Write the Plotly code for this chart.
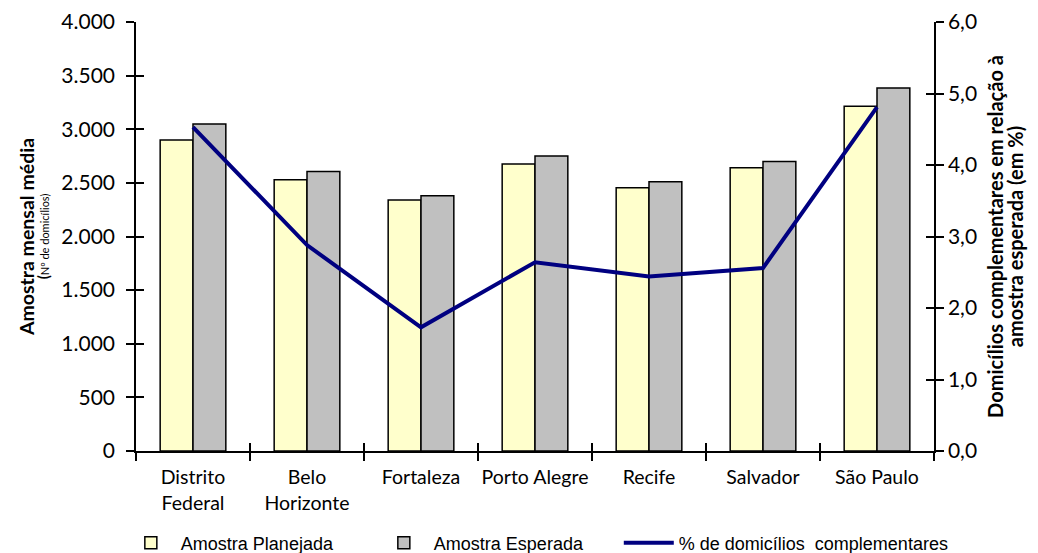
import plotly.graph_objects as go

# Capitals surveyed
cidades = ["Distrito<br>Federal", "Belo<br>Horizonte", "Fortaleza", "Porto Alegre",
           "Recife", "Salvador", "São Paulo"]

# Average monthly sample (number of households)
amostra_planejada = [2900, 2530, 2340, 2675, 2455, 2640, 3215]
amostra_esperada = [3050, 2605, 2380, 2750, 2510, 2700, 3385]

# Complementary households relative to the expected sample (%)
pct_complementares = [4.53, 2.88, 1.73, 2.64, 2.44, 2.56, 4.81]

num_font = "Lato, 'Open Sans', sans-serif"
legend_font = "'Liberation Sans', Arial, sans-serif"

fig = go.Figure()
fig.add_trace(go.Bar(
    x=cidades, y=amostra_planejada, name="Amostra Planejada",
    marker=dict(color="#FFFFCC", line=dict(color="black", width=1.5)),
))
fig.add_trace(go.Bar(
    x=cidades, y=amostra_esperada, name="Amostra Esperada",
    marker=dict(color="#C0C0C0", line=dict(color="black", width=1.5)),
))
fig.add_trace(go.Scatter(
    x=cidades, y=pct_complementares, name="% de domicílios  complementares",
    mode="lines", line=dict(color="#000080", width=4), yaxis="y2",
    legend="legend2",
))

# transparent copies that bring up the overlay axes carrying the inner
# half of the crossing tick marks
hidden = dict(mode="lines", opacity=0, line=dict(width=0), showlegend=False, hoverinfo="skip")
fig.add_trace(go.Scatter(x=cidades, y=amostra_esperada, xaxis="x", yaxis="y3", **hidden))
fig.add_trace(go.Scatter(x=cidades, y=pct_complementares, xaxis="x", yaxis="y4", **hidden))
fig.add_trace(go.Scatter(x=list(range(len(cidades))), y=amostra_esperada, xaxis="x3", yaxis="y", **hidden))

tick_common = dict(ticklen=8, tickwidth=1.5, tickcolor="black")
plain = dict(showgrid=False, zeroline=False, automargin=False)
legend_common = dict(
    orientation="h", xanchor="left", y=-0.2145, yanchor="middle",
    font=dict(family=legend_font, size=18, color="black"),
    itemwidth=50, bgcolor="rgba(0,0,0,0)",
)

fig.update_layout(
    width=1038, height=553,
    margin=dict(l=136, r=104, t=22, b=102, autoexpand=False),
    paper_bgcolor="white", plot_bgcolor="white",
    separators=",.",
    barmode="group", bargap=0.424, bargroupgap=0,
    showlegend=True,
    legend=dict(x=-0.019, entrywidth=188, entrywidthmode="pixels", **legend_common),
    legend2=dict(x=0.605, **legend_common),
    xaxis=dict(
        type="category", tickson="boundaries", ticks="outside",
        showline=True, linecolor="black", linewidth=1.5,
        tickfont=dict(family=num_font, size=19.5, color="black"),
        tickangle=0, ticklabelstandoff=8,
        **tick_common, **plain,
    ),
    yaxis=dict(
        range=[0, 4000], dtick=500, tickformat=",.0f", ticks="outside",
        showline=True, linecolor="black", linewidth=1.5,
        tickfont=dict(family=num_font, size=21, color="black"),
        ticklabelstandoff=7,
        title=dict(
            text="<span style='font-size:19.5px;font-weight:bold'>Amostra mensal média</span><br><span style='font-size:15px;font-weight:bold'>(</span>Nº de domicílios)",
            font=dict(family=num_font, size=11, color="black"), standoff=10,
        ),
        **tick_common, **plain,
    ),
    yaxis2=dict(
        range=[0, 6], dtick=1, tickformat=".1f", ticks="outside",
        overlaying="y", side="right", anchor="x",
        showline=True, linecolor="black", linewidth=1.5,
        tickfont=dict(family=num_font, size=21, color="black"),
        title=dict(
            text="<span style='font-size:20px;font-weight:bold'>Domicílios complementares em relação à</span><br><span style='font-size:20px;font-weight:bold'>amostra esperada (em %)</span>",
            font=dict(family=num_font, size=15.5, color="black"), standoff=16,
        ),
        **tick_common, **plain,
    ),
    xaxis3=dict(
        overlaying="x", anchor="y", range=[-0.5, 6.5],
        tickvals=[-0.5, 0.5, 1.5, 2.5, 3.5, 4.5, 5.5, 6.5],
        ticks="inside", showticklabels=False, showline=False,
        **tick_common, **plain,
    ),
    yaxis3=dict(
        overlaying="y", anchor="x", range=[0, 4000], dtick=500,
        ticks="inside", showticklabels=False, showline=False,
        **tick_common, **plain,
    ),
    yaxis4=dict(
        overlaying="y", anchor="x", side="right", range=[0, 6], dtick=1,
        ticks="inside", showticklabels=False, showline=False,
        **tick_common, **plain,
    ),
)

fig.write_html("out.html")
